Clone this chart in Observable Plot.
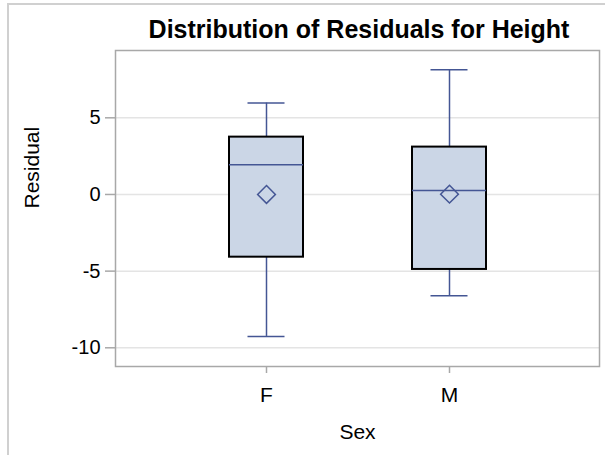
<!DOCTYPE html>
<html><head><meta charset="utf-8">
<script src="https://cdn.jsdelivr.net/npm/d3@7"></script>
<script src="https://cdn.jsdelivr.net/npm/@observablehq/plot@0.6"></script>
<style>
body{margin:0;background:#fff;font-family:"Liberation Sans",Arial,sans-serif;}
#wrap{position:relative;width:605px;height:455px;overflow:hidden;}
#outer{position:absolute;left:7px;top:3px;width:700px;height:600px;border-left:2px solid #d0d0d0;border-top:2px solid #d0d0d0;box-sizing:border-box;}
#title{position:absolute;left:117px;width:484px;top:17px;line-height:25px;text-align:center;font-weight:bold;font-size:25px;color:#000;white-space:nowrap;}
#chart{position:absolute;left:0;top:0;}
</style></head>
<body><div id="wrap"><div id="outer"></div><div id="chart"></div><div id="title">Distribution of Residuals for Height</div></div>
<script>
const sexes = ["F", "M"];
const q1 = [-4.09, -4.89];
const q3 = [3.74, 3.09];
const medians = [1.94, 0.26];
const lowWhisker = [-9.26, -6.61];
const highWhisker = [5.96, 8.13];
const means = [0.0, 0.02];
const yTicks = [-10, -5, 0, 5];

const rows = sexes.map((s, i) => ({sex: s, q1: q1[i], q3: q3[i], med: medians[i], lo: lowWhisker[i], hi: highWhisker[i], mean: means[i]}));
const blue = "#445694";
const fmt = d => d < 0 ? "-" + Math.abs(d) : String(d);
const chart = Plot.plot({
  width: 605, height: 455,
  marginLeft: 115, marginRight: 6, marginTop: 50, marginBottom: 89,
  style: {fontFamily: "'Liberation Sans', Arial, sans-serif", fontSize: "20px", color: "#000", background: "transparent"},
  x: {domain: sexes, paddingInner: 0.598, paddingOuter: 0.62},
  y: {domain: [-11.22, 9.39]},
  marks: [
    Plot.gridY(yTicks, {stroke: "#e4e4e4", strokeOpacity: 1, strokeWidth: 1.5}),
    Plot.frame({stroke: "#a8a8a8", strokeWidth: 1.5}),
    Plot.axisY({ticks: yTicks, tickSize: 10, tickPadding: 5, stroke: "#a8a8a8", strokeWidth: 1.5, tickFormat: fmt, label: null, fontSize: 20, fill: "#000"}),
    Plot.text(["Residual"], {frameAnchor: "left", dx: -83, rotate: -90, fontSize: 21, fill: "#000"}),
    Plot.axisX({tickSize: 7, tickPadding: 14, stroke: "#a8a8a8", strokeWidth: 1.5, label: null, fontSize: 21, fill: "#000"}),
    Plot.text(["Sex"], {frameAnchor: "bottom", dy: 72, fontSize: 21, fill: "#000"}),
    Plot.ruleX(rows, {x: "sex", y1: "q3", y2: "hi", stroke: blue, strokeWidth: 1.5}),
    Plot.ruleX(rows, {x: "sex", y1: "lo", y2: "q1", stroke: blue, strokeWidth: 1.5}),
    Plot.tickY(rows, {x: "sex", y: "hi", stroke: blue, strokeWidth: 1.5, insetLeft: 18.5, insetRight: 18.5}),
    Plot.tickY(rows, {x: "sex", y: "lo", stroke: blue, strokeWidth: 1.5, insetLeft: 18.5, insetRight: 18.5}),
    Plot.barY(rows, {x: "sex", y1: "q1", y2: "q3", fill: "#cbd6e6", stroke: "#000", strokeWidth: 2}),
    Plot.tickY(rows, {x: "sex", y: "med", stroke: blue, strokeWidth: 1.5}),
    Plot.dot(rows, {x: "sex", y: "mean", symbol: "diamond2", r: 8, stroke: blue, strokeWidth: 1.5, fill: "none"})
  ]
});
document.getElementById("chart").append(chart);
</script></body></html>
